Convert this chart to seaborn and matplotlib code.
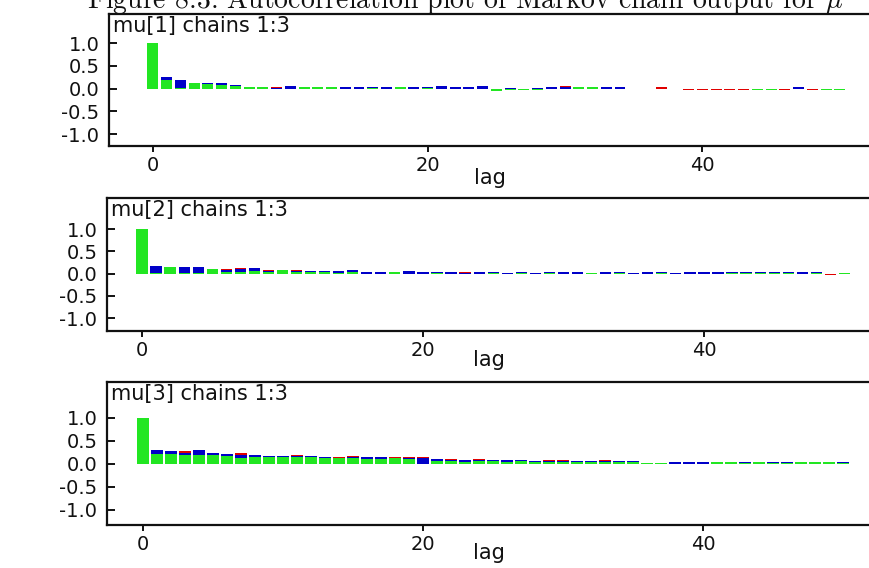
import numpy as np
import pandas as pd
import matplotlib
matplotlib.use("Agg")
import matplotlib.pyplot as plt
import seaborn as sns

# ---------------- data ----------------
lags = list(range(51))
chains = ["1", "2", "3"]

mu1_chain1 = [1.0, 0.17, 0.15, 0.11, 0.10, 0.07, 0.08, 0.03, 0.04, 0.04, 0.04, 0.02, 0.02, 0.02, 0.01, 0.04,
              0.02, 0.02, 0.01, 0.03, 0.02, 0.03, 0.02, 0.01, 0.02, -0.02, -0.04, -0.04, -0.03, 0.02, 0.05, 0.00,
              0.01, 0.01, 0.01, 0.00, 0.00, 0.03, 0.00, -0.04, -0.04, -0.04, -0.04, -0.03, 0.00, -0.04, -0.04,
              0.01, -0.04, -0.03, 0.00]
mu1_chain2 = [1.0, 0.26, 0.20, 0.12, 0.13, 0.12, 0.09, 0.02, 0.02, 0.02, 0.05, 0.02, 0.03, 0.04, 0.04, 0.03,
              0.04, 0.04, 0.02, 0.04, 0.04, 0.05, 0.04, 0.04, 0.05, -0.01, 0.01, 0.00, 0.01, 0.03, 0.04, 0.01,
              0.02, 0.03, 0.03, 0.00, 0.00, 0.00, 0.00, 0.00, 0.00, 0.00, 0.00, 0.00, 0.00, 0.00, 0.00, 0.04,
              0.00, 0.00, 0.00]
mu1_chain3 = [1.0, 0.19, 0.01, 0.13, 0.10, 0.08, 0.06, 0.04, 0.03, 0.00, 0.00, 0.03, 0.04, 0.03, 0.00, 0.00,
              0.01, 0.00, 0.03, 0.00, 0.01, 0.00, 0.00, 0.00, 0.00, -0.05, -0.03, -0.03, -0.02, 0.00, 0.00,
              0.03, 0.03, 0.00, 0.00, 0.00, 0.00, 0.00, 0.00, 0.00, 0.00, 0.00, 0.00, 0.00, -0.03, -0.02, 0.00,
              0.00, 0.00, -0.02, -0.03]

mu2_chain1 = [1.0, 0.10, 0.12, 0.10, 0.09, 0.07, 0.11, 0.12, 0.10, 0.09, 0.06, 0.09, 0.07, 0.05, 0.06, 0.08,
              0.02, 0.01, 0.01, 0.05, 0.02, 0.01, 0.02, 0.03, 0.01, 0.02, 0.01, 0.01, 0.02, 0.01, 0.02, 0.01,
              0.02, 0.01, 0.01, 0.02, 0.01, 0.01, 0.01, 0.01, 0.02, 0.04, 0.01, 0.01, 0.01, 0.01, 0.01, 0.03,
              0.01, -0.02, -0.01]
mu2_chain2 = [1.0, 0.18, 0.12, 0.14, 0.14, 0.09, 0.08, 0.11, 0.12, 0.07, 0.06, 0.07, 0.06, 0.06, 0.06, 0.09,
              0.03, 0.03, 0.02, 0.05, 0.03, 0.04, 0.03, 0.02, 0.03, 0.03, 0.02, 0.03, 0.02, 0.03, 0.04, 0.03,
              0.02, 0.03, 0.03, 0.02, 0.03, 0.03, 0.02, 0.03, 0.03, 0.04, 0.03, 0.03, 0.03, 0.03, 0.03, 0.03,
              0.03, 0.00, 0.00]
mu2_chain3 = [1.0, 0.01, 0.16, 0.02, 0.02, 0.11, 0.03, 0.04, 0.06, 0.03, 0.08, 0.04, 0.03, 0.04, 0.02, 0.03,
              0.00, 0.00, 0.03, 0.00, 0.00, 0.02, 0.00, 0.00, 0.00, 0.01, 0.00, 0.01, 0.00, 0.01, 0.00, 0.00,
              0.01, 0.00, 0.01, 0.00, 0.00, 0.01, 0.00, 0.00, 0.00, 0.00, 0.02, 0.02, 0.02, 0.02, 0.02, 0.00,
              0.02, 0.00, 0.01]

mu3_chain1 = [1.0, 0.26, 0.22, 0.27, 0.25, 0.21, 0.20, 0.23, 0.16, 0.15, 0.15, 0.19, 0.16, 0.15, 0.14, 0.17,
              0.12, 0.14, 0.14, 0.14, 0.14, 0.09, 0.10, 0.08, 0.10, 0.08, 0.07, 0.09, 0.07, 0.08, 0.08, 0.07,
              0.06, 0.08, 0.06, 0.07, 0.01, 0.01, 0.02, 0.03, 0.02, 0.05, 0.04, 0.04, 0.05, 0.03, 0.03, 0.05,
              0.05, 0.05, 0.04]
mu3_chain2 = [1.0, 0.30, 0.27, 0.24, 0.30, 0.24, 0.22, 0.19, 0.19, 0.17, 0.17, 0.16, 0.17, 0.14, 0.13, 0.15,
              0.15, 0.14, 0.13, 0.12, 0.13, 0.10, 0.09, 0.08, 0.09, 0.08, 0.08, 0.08, 0.06, 0.07, 0.06, 0.06,
              0.07, 0.06, 0.06, 0.06, 0.01, 0.01, 0.05, 0.05, 0.05, 0.04, 0.04, 0.04, 0.04, 0.04, 0.03, 0.04,
              0.04, 0.04, 0.03]
mu3_chain3 = [1.0, 0.22, 0.22, 0.20, 0.20, 0.185, 0.18, 0.13, 0.15, 0.15, 0.15, 0.14, 0.14, 0.13, 0.13, 0.12,
              0.11, 0.11, 0.12, 0.10, 0.00, 0.06, 0.06, 0.05, 0.07, 0.06, 0.05, 0.06, 0.05, 0.05, 0.04, 0.05,
              0.05, 0.04, 0.05, 0.04, 0.02, 0.02, 0.00, 0.00, 0.00, 0.03, 0.03, 0.02, 0.03, 0.02, 0.02, 0.03,
              0.03, 0.03, 0.02]

panel_titles = ["mu[1] chains 1:3", "mu[2] chains 1:3", "mu[3] chains 1:3"]
x_ticks = [0, 20, 40]
y_ticks = [-1.0, -0.5, 0.0, 0.5, 1.0]
y_tick_labels = ["-1.0", "-0.5", "0.0", "0.5", "1.0"]
figure_caption = "Figure 8.3: Autocorrelation plot of Markov chain output for $\\mu$"

# ---------------- style ----------------
sns.set_theme(style="ticks")
plt.rcParams["font.family"] = ["DejaVu Sans"]
plt.rcParams["axes.unicode_minus"] = False
plt.rcParams["mathtext.fontset"] = "cm"

RED, BLUE, GREEN = "#e00000", "#0000c8", "#22e622"

W, H = 870, 568
fig = plt.figure(figsize=(W / 100, H / 100), dpi=100)

# panel boxes in pixels: (left, top, bottom), xlim, ylim
panels = [
    ((109, 14, 146), (-3.2, 52.2), (-1.26, 1.64)),
    ((107, 198, 331), (-2.49, 51.82), (-1.29, 1.70)),
    ((107, 382, 525), (-2.57, 51.93), (-1.33, 1.78)),
]
series = [
    (mu1_chain1, mu1_chain2, mu1_chain3),
    (mu2_chain1, mu2_chain2, mu2_chain3),
    (mu3_chain1, mu3_chain2, mu3_chain3),
]
label_offsets = [32, 29, 28]

for (box, xl, yl), (c1, c2, c3), title, loff in zip(panels, series, panel_titles, label_offsets):
    left, top, bottom = box
    hpx = bottom - top
    ax = fig.add_axes([left / W, 1 - bottom / H, (W - left) / W, hpx / H])
    df = pd.DataFrame({
        "lag": lags * 3,
        "acf": list(c1) + list(c2) + list(c3),
        "chain": [chains[0]] * len(lags) + [chains[1]] * len(lags) + [chains[2]] * len(lags),
    })
    sns.barplot(data=df, x="lag", y="acf", hue="chain", hue_order=chains,
                palette=[RED, BLUE, GREEN], dodge=False, native_scale=True,
                width=0.8, errorbar=None, saturation=1, linewidth=0,
                legend=False, ax=ax)
    ax.set_xlim(*xl)
    ax.set_ylim(*yl)
    ax.set_xticks(x_ticks)
    ax.set_xticklabels([str(t) for t in x_ticks])
    ax.set_yticks(y_ticks)
    ax.set_yticklabels(y_tick_labels)
    ax.set_ylabel("")
    ax.set_xlabel("lag", fontsize=15, color="#111111")
    ax.xaxis.set_label_coords(0.5, -loff / hpx)
    ax.xaxis.label.set_verticalalignment("center")
    for s in ["left", "top", "bottom"]:
        ax.spines[s].set_visible(True)
        ax.spines[s].set_linewidth(1.6)
        ax.spines[s].set_color("#111111")
    ax.spines["right"].set_visible(False)
    ax.tick_params(axis="y", direction="in", length=6, width=1.4, pad=7,
                   labelsize=14, colors="#111111", left=True)
    ax.tick_params(axis="x", direction="out", length=4, width=1.4, pad=3,
                   labelsize=14, colors="#111111", bottom=True)
    ax.text(4 / (W - left), 1 - 2 / hpx, title, transform=ax.transAxes,
            ha="left", va="top", fontsize=15, color="#111111")

fig.text(465 / W, 1 - 8 / H, figure_caption, ha="center", va="baseline",
         fontsize=20, family=["cmr10"], color="#111111")

fig.savefig("out.png", dpi=100)
